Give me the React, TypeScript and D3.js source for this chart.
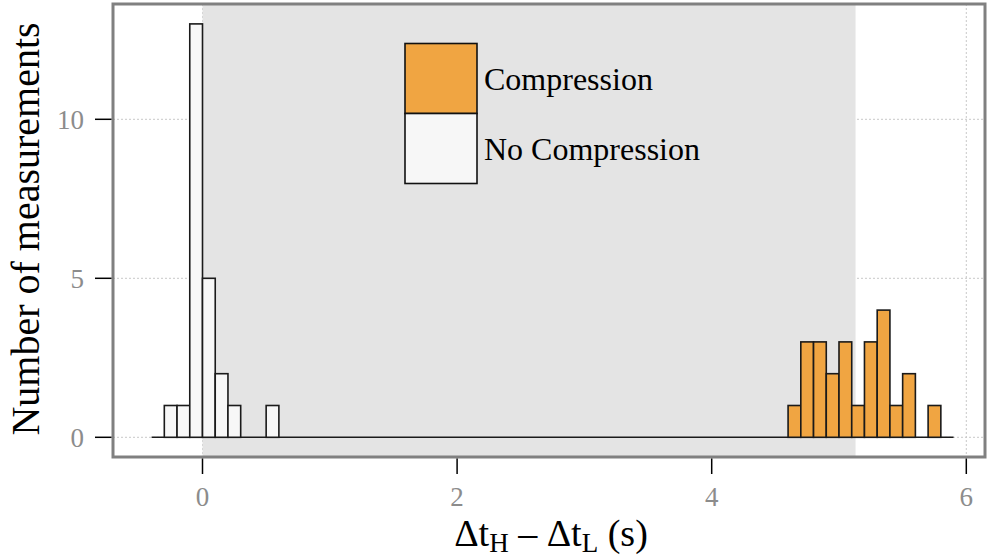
import React from "react";
import * as d3 from "d3";

// Bin width 0.1 s; each value is the left edge of a bin
const noCompBins = [-0.3, -0.2, -0.1, 0.0, 0.1, 0.2, 0.5];
const noCompCounts = [1, 1, 13, 5, 2, 1, 1];
const compBins = [4.6, 4.7, 4.8, 4.9, 5.0, 5.1, 5.2, 5.3, 5.4, 5.5, 5.7];
const compCounts = [1, 3, 3, 2, 3, 1, 3, 4, 1, 2, 1];
const binWidth = 0.1;
const histRange = [-0.4, 5.9];
const shadeRange = [0, 5.13];
const xTicks = [0, 2, 4, 6];
const yTicks = [0, 5, 10];
const legendLabels = ["Compression", "No Compression"];

const W = 988;
const H = 559;
const panel = { left: 113, right: 985, top: 4, bottom: 457 };
const COMP = "#f0a542";
const NOCOMP = "#f7f7f7";
const FONT = "'Liberation Serif', 'Times New Roman', serif";

export default function App() {
  const x = d3.scaleLinear().domain([0, 6]).range([202.5, 966.3]);
  const y = d3.scaleLinear().domain([0, 10]).range([437.3, 119.3]);

  const bars = (bins: number[], counts: number[], fill: string) =>
    bins.map((b, i) => (
      <rect
        key={`${fill}-${i}`}
        x={x(b)}
        y={y(counts[i])}
        width={x(b + binWidth) - x(b)}
        height={y(0) - y(counts[i])}
        fill={fill}
        stroke="#1a1a1a"
        strokeWidth={1.6}
      />
    ));

  return (
    <svg width={W} height={H} style={{ position: "absolute", left: 0, top: 0 }}>
      <rect x={0} y={0} width={W} height={H} fill="#fff" />
      {/* grid */}
      {xTicks.map((t) => (
        <line key={`gx${t}`} x1={x(t)} x2={x(t)} y1={panel.top} y2={panel.bottom}
          stroke="#c8c8c8" strokeWidth={1} strokeDasharray="2,2" />
      ))}
      {yTicks.map((t) => (
        <line key={`gy${t}`} x1={panel.left} x2={panel.right} y1={y(t)} y2={y(t)}
          stroke="#c8c8c8" strokeWidth={1} strokeDasharray="2,2" />
      ))}
      {/* shaded region */}
      <rect x={x(shadeRange[0])} y={panel.top} width={x(shadeRange[1]) - x(shadeRange[0])}
        height={panel.bottom - panel.top} fill="#e4e4e4" />
      {/* baseline */}
      <line x1={x(histRange[0])} x2={x(histRange[1])} y1={y(0)} y2={y(0)} stroke="#1a1a1a" strokeWidth={1.6} />
      {bars(noCompBins, noCompCounts, NOCOMP)}
      {bars(compBins, compCounts, COMP)}
      {/* panel border */}
      <rect x={panel.left} y={panel.top} width={panel.right - panel.left} height={panel.bottom - panel.top}
        fill="none" stroke="#808080" strokeWidth={3} />
      {/* y axis */}
      {yTicks.map((t) => (
        <g key={`yt${t}`}>
          <line x1={95} x2={panel.left - 1.5} y1={y(t)} y2={y(t)} stroke="#000" strokeWidth={1.5} />
          <text x={84} y={y(t)} dy="0.35em" textAnchor="end" fontFamily={FONT} fontSize={27} fill="#8c8c8c">{t}</text>
        </g>
      ))}
      {/* x axis */}
      {xTicks.map((t) => (
        <g key={`xt${t}`}>
          <line x1={x(t)} x2={x(t)} y1={panel.bottom + 1.5} y2={474} stroke="#000" strokeWidth={1.5} />
          <text x={x(t)} y={506} textAnchor="middle" fontFamily={FONT} fontSize={27} fill="#8c8c8c">{t}</text>
        </g>
      ))}
      <text transform="translate(39,229) rotate(-90)" textAnchor="middle" fontFamily={FONT} fontSize={40} fill="#000">
        Number of measurements
      </text>
      <text x={551} y={546} textAnchor="middle" fontFamily={FONT} fontSize={38} fill="#000">
        Δt<tspan fontSize={27} dy={6}>H</tspan><tspan dy={-6}> – Δt</tspan><tspan fontSize={27} dy={6}>L</tspan><tspan dy={-6}> (s)</tspan>
      </text>
      {/* legend */}
      {legendLabels.map((lab, i) => (
        <g key={lab}>
          <rect x={405} y={43.5 + i * 70} width={72} height={70} fill={i === 0 ? COMP : NOCOMP}
            stroke="#111" strokeWidth={1.6} />
          <text x={484} y={78.5 + i * 70} dy="0.35em" fontFamily={FONT} fontSize={32} fill="#000">{lab}</text>
        </g>
      ))}
    </svg>
  );
}
